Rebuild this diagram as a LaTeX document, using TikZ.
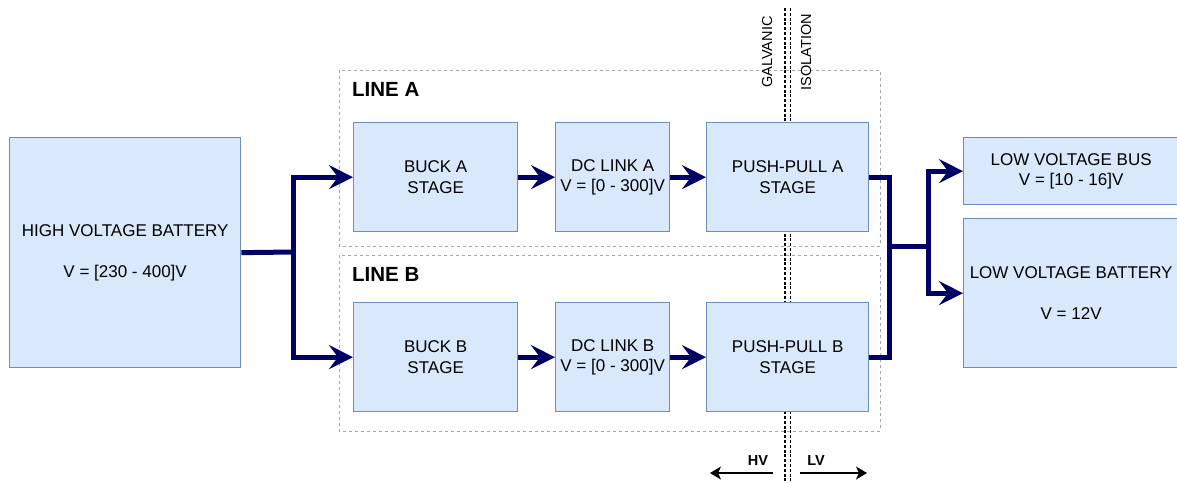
\documentclass[tikz,border=0pt]{standalone}
\usepackage{fontspec}
\setmainfont{Liberation Sans}
\usetikzlibrary{arrows.meta}
\definecolor{boxfill}{HTML}{DAE8FC}
\definecolor{boxdraw}{HTML}{6C8EBF}
\definecolor{navy}{HTML}{000066}
\definecolor{grp}{HTML}{A6A6A6}
\begin{document}
\begin{tikzpicture}[x=1pt,y=-1pt,
  block/.style={draw=boxdraw, fill=boxfill, line width=1.3pt, anchor=north west,
    inner sep=0pt, align=center, font=\fontsize{17}{20.5}\selectfont},
  group/.style={draw=grp, line width=1pt, dash pattern=on 3pt off 3pt},
  grouplabel/.style={font=\bfseries\fontsize{20.5}{24}\selectfont, anchor=base west, inner sep=0pt},
  navyline/.style={draw=navy, line width=5pt},
  flow/.style={navyline, -{Stealth[length=24pt,width=24pt,inset=9pt]}},
  iso/.style={draw=black, line width=1.3pt, dash pattern=on 3pt off 1.8pt},
  isotext/.style={rotate=90, inner sep=0pt, font=\fontsize{14.5}{17}\selectfont},
  dirtext/.style={anchor=base, inner sep=0pt, font=\bfseries\fontsize{14.5}{17}\selectfont},
  thinarrow/.style={draw=black, line width=1.3pt, -{Stealth[length=11pt,width=13pt,inset=3pt]}}
]
\fill[white] (0,0) rectangle (1177,482);
\useasboundingbox (0,0) rectangle (1177,482);

% groups
\draw[group] (339,70) rectangle (880,246);
\draw[group] (339,255) rectangle (880,431);
\node[grouplabel] (la) at (352,96) {LINE A};
\node[grouplabel] (lb) at (352,281) {LINE B};

% galvanic isolation
\coordinate (g1t) at (785,8);
\coordinate (g1b) at (785,482);
\coordinate (g2t) at (790.5,8);
\coordinate (g2b) at (790.5,482);
\draw[iso] (g1t) -- (g1b);
\draw[iso] (g2t) -- (g2b);
\node[isotext] (galv) at (767,52) {GALVANIC};
\node[isotext] (isol) at (806,52) {ISOLATION};

% blocks
\node[block, minimum width=231pt, minimum height=230pt] (hv) at (9,137)
  {HIGH VOLTAGE BATTERY\\\mbox{}\\V = [230 - 400]V};
\node[block, minimum width=164pt, minimum height=109pt] (bucka) at (353,122) {BUCK A\\STAGE};
\node[block, minimum width=114pt, minimum height=109pt] (dca) at (555,122) {DC LINK A\\V = [0 - 300]V};
\node[block, minimum width=162pt, minimum height=109pt] (ppa) at (706,122) {PUSH-PULL A\\STAGE};
\node[block, minimum width=164pt, minimum height=109pt] (buckb) at (353,302) {BUCK B\\STAGE};
\node[block, minimum width=114pt, minimum height=109pt] (dcb) at (555,302) {DC LINK B\\V = [0 - 300]V};
\node[block, minimum width=162pt, minimum height=109pt] (ppb) at (706,302) {PUSH-PULL B\\STAGE};
\node[block, minimum width=215pt, minimum height=67pt] (lvbus) at (963,137) {LOW VOLTAGE BUS\\V = [10 - 16]V};
\node[block, minimum width=215pt, minimum height=149pt] (lvbat) at (963,218)
  {LOW VOLTAGE BATTERY\\\mbox{}\\V = 12V};

% connectors
\coordinate (s1) at (293,252);
\draw[navyline] (hv.east) -- (s1);
\draw[flow] (s1) |- (bucka.west);
\draw[flow] (s1) |- (buckb.west);
\draw[flow] (bucka) -- (dca);
\draw[flow] (dca) -- (ppa);
\draw[flow] (buckb) -- (dcb);
\draw[flow] (dcb) -- (ppb);
\coordinate (m1) at (889,246);
\coordinate (s2) at (928,246);
\draw[navyline] (ppa.east) -| (m1);
\draw[navyline] (ppb.east) -| (m1);
\draw[navyline] (m1) -- (s2);
\draw[flow] (s2) |- (lvbus.west);
\draw[flow] (s2) |- (lvbat.west);

% HV / LV
\node[dirtext] (hvl) at (758,465) {HV};
\node[dirtext] (lvl) at (816,465) {LV};
\coordinate (ha) at (773,473);
\coordinate (hb) at (710,473);
\coordinate (la1) at (800,473);
\coordinate (la2) at (867,473);
\draw[thinarrow] (ha) -- (hb);
\draw[thinarrow] (la1) -- (la2);
\end{tikzpicture}
\end{document}
